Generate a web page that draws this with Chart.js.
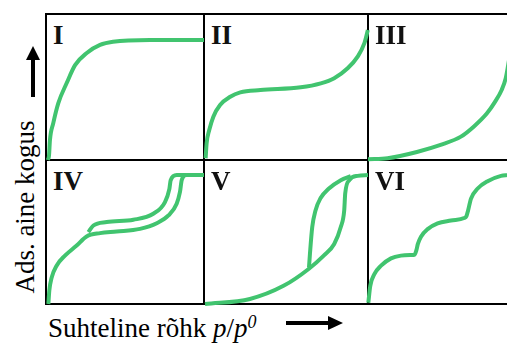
<!DOCTYPE html>
<html>
<head>
<meta charset="utf-8">
<script src="https://cdn.jsdelivr.net/npm/chart.js@4/dist/chart.umd.min.js"></script>
<style>
  html, body { margin: 0; padding: 0; background: #fff; overflow: hidden; width: 507px; height: 343px; }
  .line { position: absolute; background: #000; }
  canvas { position: absolute; }
  .tag { position: absolute; font-family: "Liberation Serif", "Times New Roman", Times, serif; font-weight: bold; font-size: 27px; line-height: 1; color: #111; }
  #ytitle { position: absolute; font-family: "Liberation Serif", "Times New Roman", Times, serif; font-size: 27px; white-space: nowrap; line-height: 1;
            left: 25px; top: 207px; transform: translate(-50%, -50%) rotate(-90deg); }
  #xtitle { position: absolute; font-family: "Liberation Serif", "Times New Roman", Times, serif; font-size: 27px; white-space: nowrap; line-height: 1;
            left: 48px; top: 313px; }
  svg { position: absolute; left: 0; top: 0; }
</style>
</head>
<body>
<div id="ytitle">Ads. aine kogus</div>
<div id="xtitle">Suhteline rõhk <i>p</i>/<i>p</i><sup style="font-size:18px;font-style:italic;vertical-align:9px">0</sup></div>
<svg width="507" height="343">
  <line x1="33" y1="97" x2="33" y2="58" stroke="#000" stroke-width="4"/>
  <polygon points="26,60 40,60 33,46" fill="#000"/>
  <line x1="286" y1="323" x2="330" y2="323" stroke="#000" stroke-width="4"/>
  <polygon points="328,316 328,330 343,323" fill="#000"/>
</svg>
<div id="grid"></div>
<script>
// isotherm types, relative pressure (0..1) vs adsorbed amount (0..1)
const typeLabels = ['I', 'II', 'III', 'IV', 'V', 'VI'];

const typeI_x = [0.012, 0.019, 0.025, 0.046, 0.078, 0.131, 0.184, 0.258, 0.342, 0.424, 0.658, 1.0];
const typeI_y = [0.0, 0.03, 0.137, 0.253, 0.39, 0.527, 0.65, 0.733, 0.788, 0.81, 0.822, 0.822];

const typeII_x = [0.010, 0.016, 0.032, 0.057, 0.098, 0.16, 0.221, 0.344, 0.59, 0.712, 0.794, 0.876, 0.937, 0.978, 0.999];
const typeII_y = [0.012, 0.114, 0.205, 0.297, 0.377, 0.433, 0.463, 0.479, 0.498, 0.525, 0.56, 0.628, 0.708, 0.80, 0.89];

const typeIII_x = [0.0, 0.12, 0.3, 0.45, 0.57, 0.65, 0.73, 0.78, 0.82, 0.845, 0.86, 0.875, 0.89];
const typeIII_y = [0.005, 0.012, 0.055, 0.105, 0.16, 0.23, 0.32, 0.40, 0.48, 0.56, 0.65, 0.75, 0.85];

const typeIV_ads_x = [0.015, 0.021, 0.036, 0.067, 0.12, 0.194, 0.257, 0.342, 0.447, 0.595, 0.701, 0.775, 0.827, 0.848, 0.859, 0.89, 1.0];
const typeIV_ads_y = [0.0, 0.093, 0.184, 0.266, 0.336, 0.406, 0.469, 0.492, 0.503, 0.522, 0.561, 0.615, 0.697, 0.778, 0.86, 0.895, 0.895];
const typeIV_des_x = [0.268, 0.30, 0.384, 0.553, 0.679, 0.753, 0.781, 0.789, 0.827, 0.89];
const typeIV_des_y = [0.499, 0.545, 0.569, 0.585, 0.627, 0.708, 0.80, 0.86, 0.895, 0.895];

const typeV_ads_x = [0.006, 0.28, 0.485, 0.64, 0.73, 0.794, 0.834, 0.855, 0.861, 0.886, 0.937, 1.0];
const typeV_ads_y = [0.0, 0.035, 0.126, 0.245, 0.336, 0.417, 0.534, 0.65, 0.767, 0.86, 0.89, 0.895];
const typeV_des_x = [0.64, 0.646, 0.66, 0.68, 0.71, 0.76, 0.834, 0.895];
const typeV_des_y = [0.252, 0.348, 0.534, 0.65, 0.734, 0.80, 0.86, 0.888];

const typeVI_x = [0.002, 0.014, 0.039, 0.08, 0.141, 0.202, 0.264, 0.285, 0.296, 0.306, 0.325, 0.366, 0.427, 0.509, 0.59, 0.604, 0.614, 0.632, 0.673, 0.734, 0.816, 0.857, 1.0];
const typeVI_y = [0.009, 0.126, 0.207, 0.266, 0.317, 0.336, 0.34, 0.342, 0.37, 0.417, 0.467, 0.52, 0.56, 0.58, 0.597, 0.61, 0.65, 0.732, 0.802, 0.853, 0.89, 0.895, 0.91];

const green = '#41c46f';

// panel frame edges (pixels)
const colEdges = [45, 203, 367, 530];
const rowEdges = [13, 159, 303];

function pts(xs, ys) {
    return xs.map((x, i) => ({x: x, y: ys[i]}));
}

const panelSeries = [
    [pts(typeI_x, typeI_y)],
    [pts(typeII_x, typeII_y)],
    [pts(typeIII_x, typeIII_y)],
    [pts(typeIV_ads_x, typeIV_ads_y), pts(typeIV_des_x, typeIV_des_y)],
    [pts(typeV_ads_x, typeV_ads_y), pts(typeV_des_x, typeV_des_y)],
    [pts(typeVI_x, typeVI_y)]
];

let grid = document.getElementById('grid');

// frame lines
colEdges.forEach(function (x) {
    let d = document.createElement('div');
    d.className = 'line';
    d.style.left = x + 'px'; d.style.top = '13px';
    d.style.width = '2px'; d.style.height = '292px';
    grid.appendChild(d);
});
rowEdges.forEach(function (y) {
    let d = document.createElement('div');
    d.className = 'line';
    d.style.left = '45px'; d.style.top = y + 'px';
    d.style.width = '500px'; d.style.height = '2px';
    grid.appendChild(d);
});

const pad = 4;
for (let i = 0; i < 6; i++) {
    let col = i % 3, row = Math.floor(i / 3);
    let x0 = colEdges[col] + 1, x1 = colEdges[col + 1] + 1;
    let y0 = rowEdges[row] + 1, y1 = rowEdges[row + 1] + 1;

    let tag = document.createElement('div');
    tag.className = 'tag';
    tag.textContent = typeLabels[i];
    tag.style.left = (x0 + 7) + 'px';
    tag.style.top = (y0 + 8) + 'px';
    grid.appendChild(tag);

    let cv = document.createElement('canvas');
    cv.width = x1 - x0 + 2 * pad;
    cv.height = y1 - y0 + 2 * pad;
    cv.style.left = (x0 - pad) + 'px';
    cv.style.top = (y0 - pad) + 'px';
    grid.appendChild(cv);

    new Chart(cv.getContext('2d'), {
        type: 'line',
        data: {
            datasets: panelSeries[i].map(d => ({
                data: d,
                borderColor: green,
                borderWidth: 4,
                pointRadius: 0,
                cubicInterpolationMode: 'monotone',
                fill: false,
                clip: false
            }))
        },
        options: {
            responsive: false,
            animation: false,
            layout: {padding: pad},
            plugins: {legend: {display: false}, tooltip: {enabled: false}},
            scales: {
                x: {type: 'linear', min: 0, max: 1, display: false},
                y: {type: 'linear', min: 0, max: 1, display: false}
            }
        }
    });
}
</script>
</body>
</html>
